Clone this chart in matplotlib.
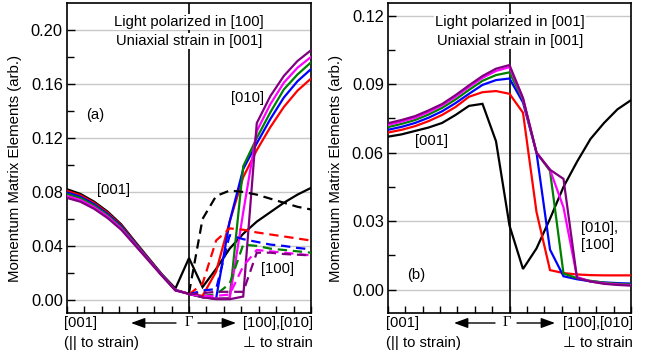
import numpy as np
import matplotlib
matplotlib.use("Agg")
import matplotlib.pyplot as plt
from matplotlib.patches import FancyArrowPatch

plt.rcParams['font.family'] = ['Liberation Sans', 'DejaVu Sans']

# k-path positions: [001] (-1) ... Gamma (0) ... [100],[010] (+1)
x = np.linspace(-1, 1, 19)
x_right = np.linspace(0, 1, 10)

colors = ['black', 'red', 'blue', 'green', 'magenta', 'purple']

# ---------------- Panel (a): light polarized in [100] ----------------
a_left = {
    'black':   [0.0820, 0.0785, 0.0728, 0.0654, 0.0560, 0.0435, 0.0312, 0.0190, 0.0085],
    'red':     [0.0808, 0.0775, 0.0719, 0.0645, 0.0552, 0.0429, 0.0308, 0.0187, 0.0075],
    'blue':    [0.0796, 0.0764, 0.0709, 0.0636, 0.0545, 0.0424, 0.0304, 0.0185, 0.0073],
    'green':   [0.0784, 0.0753, 0.0699, 0.0627, 0.0537, 0.0419, 0.0301, 0.0183, 0.0072],
    'magenta': [0.0770, 0.0740, 0.0687, 0.0617, 0.0529, 0.0413, 0.0297, 0.0181, 0.0071],
    'purple':  [0.0756, 0.0727, 0.0675, 0.0606, 0.0520, 0.0407, 0.0293, 0.0179, 0.0070],
}
a_right_solid = {
    'black':   [0.0310, 0.0095, 0.0230, 0.0380, 0.0490, 0.0580, 0.0650, 0.0720, 0.0780, 0.0830],
    'red':     [0.0045, 0.0030, 0.0210, 0.0580, 0.0910, 0.1110, 0.1280, 0.1430, 0.1550, 0.1640],
    'blue':    [0.0045, 0.0020, 0.0010, 0.0580, 0.0970, 0.1160, 0.1340, 0.1500, 0.1620, 0.1710],
    'green':   [0.0045, 0.0020, 0.0010, 0.0015, 0.0990, 0.1200, 0.1390, 0.1560, 0.1670, 0.1760],
    'magenta': [0.0045, 0.0020, 0.0010, 0.0010, 0.0650, 0.1250, 0.1450, 0.1610, 0.1720, 0.1800],
    'purple':  [0.0045, 0.0020, 0.0005, 0.0005, 0.0025, 0.1310, 0.1510, 0.1660, 0.1770, 0.1850],
}
a_right_dashed = {
    'black':   [0.0050, 0.0600, 0.0770, 0.0810, 0.0800, 0.0780, 0.0750, 0.0720, 0.0690, 0.0670],
    'red':     [0.0040, 0.0120, 0.0440, 0.0530, 0.0520, 0.0500, 0.0485, 0.0470, 0.0455, 0.0440],
    'blue':    [0.0040, 0.0070, 0.0080, 0.0480, 0.0450, 0.0430, 0.0410, 0.0400, 0.0385, 0.0375],
    'green':   [0.0040, 0.0030, 0.0040, 0.0120, 0.0410, 0.0400, 0.0380, 0.0370, 0.0360, 0.0350],
    'magenta': [0.0040, 0.0030, 0.0030, 0.0040, 0.0250, 0.0370, 0.0360, 0.0350, 0.0340, 0.0330],
    'purple':  [0.0040, 0.0050, 0.0060, 0.0060, 0.0060, 0.0350, 0.0350, 0.0340, 0.0335, 0.0330],
}

# ---------------- Panel (b): light polarized in [001] ----------------
b_values = {
    'black':   [0.0670, 0.0680, 0.0695, 0.0710, 0.0730, 0.0765, 0.0805, 0.0814, 0.0650, 0.0280,
                0.0090, 0.0180, 0.0310, 0.0450, 0.0560, 0.0660, 0.0730, 0.0790, 0.0830],
    'red':     [0.0688, 0.0700, 0.0716, 0.0738, 0.0765, 0.0800, 0.0845, 0.0865, 0.0870, 0.0858,
                0.0775, 0.0340, 0.0085, 0.0072, 0.0066, 0.0063, 0.0062, 0.0062, 0.0062],
    'blue':    [0.0700, 0.0713, 0.0730, 0.0753, 0.0781, 0.0817, 0.0858, 0.0897, 0.0918, 0.0925,
                0.0820, 0.0600, 0.0175, 0.0058, 0.0045, 0.0036, 0.0031, 0.0028, 0.0026],
    'green':   [0.0712, 0.0726, 0.0743, 0.0767, 0.0796, 0.0833, 0.0875, 0.0915, 0.0940, 0.0952,
                0.0830, 0.0600, 0.0520, 0.0070, 0.0050, 0.0038, 0.0030, 0.0025, 0.0022],
    'magenta': [0.0722, 0.0736, 0.0753, 0.0778, 0.0807, 0.0845, 0.0888, 0.0928, 0.0958, 0.0975,
                0.0835, 0.0600, 0.0525, 0.0360, 0.0055, 0.0035, 0.0027, 0.0022, 0.0019],
    'purple':  [0.0729, 0.0743, 0.0760, 0.0785, 0.0813, 0.0852, 0.0895, 0.0936, 0.0968, 0.0984,
                0.0840, 0.0600, 0.0525, 0.0485, 0.0050, 0.0035, 0.0025, 0.0020, 0.0017],
}

a_yticks = [0.00, 0.04, 0.08, 0.12, 0.16, 0.20]
a_yminor = [0.02, 0.06, 0.10, 0.14, 0.18]
b_yticks = [0.00, 0.03, 0.06, 0.09, 0.12]
b_yminor = [0.015, 0.045, 0.075, 0.105]

W, H = 657, 358
fig = plt.figure(figsize=(W / 100, H / 100), dpi=100)

def fx(px):
    return px / W

def fy(py):
    return 1 - py / H

axA = fig.add_axes([fx(67), fy(313), fx(311) - fx(67), fy(3) - fy(313)])
axB = fig.add_axes([fx(388), fy(313), fx(631) - fx(388), fy(3) - fy(313)])

LW = 1.6
DASH = (0, (4.2, 2.6))

# panel (a)
for c in colors:
    full = a_left[c] + a_right_solid[c]
    axA.plot(x, full, color=c, lw=LW, solid_joinstyle='miter', zorder=3)
for c in colors:
    axA.plot(x_right, a_right_dashed[c], color=c, lw=LW, linestyle=DASH, zorder=3)

# panel (b)
for c in colors:
    axB.plot(x, b_values[c], color=c, lw=LW, solid_joinstyle='miter', zorder=3)

def style(ax, ylim, major, minor):
    ax.set_xlim(-1, 1)
    ax.set_ylim(*ylim)
    ax.set_yticks(major)
    ax.set_yticklabels(['%.2f' % v for v in major])
    ax.set_yticks(minor, minor=True)
    ax.set_xticks(np.arange(-7, 8) / 7.0)
    ax.set_xticklabels([])
    ax.yaxis.grid(True, which='major', color='#c8c8c8', lw=1.0, zorder=0)
    ax.set_axisbelow(True)
    ax.tick_params(axis='y', which='major', direction='in', length=6, width=1.0,
                   labelsize=11.8, pad=3)
    ax.tick_params(axis='y', which='minor', direction='in', length=5, width=1.0)
    ax.tick_params(axis='x', which='major', direction='in', length=5, width=1.0)
    for s in ax.spines.values():
        s.set_linewidth(1.2)
    ax.axvline(0, color='black', lw=1.2, zorder=2)
    ax.set_ylabel('Momentum Matrix Elements (arb.)', fontsize=10.8)
    ax.yaxis.set_label_coords(-0.184, 0.466)

style(axA, (-0.0097, 0.22), a_yticks, a_yminor)
style(axB, (-0.0103, 0.1256), b_yticks, b_yminor)

box = dict(facecolor='white', edgecolor='none', pad=1.0)
FS = 10.6

# panel (a) texts
fig.text(fx(189), fy(22), 'Light polarized in [100]', ha='center', va='center',
         fontsize=FS, bbox=box, zorder=5)
fig.text(fx(189), fy(41), 'Uniaxial strain in [001]', ha='center', va='center',
         fontsize=FS, bbox=box, zorder=5)
fig.text(fx(95), fy(115), '(a)', ha='center', va='center', fontsize=FS)
fig.text(fx(113), fy(190), '[001]', ha='center', va='center', fontsize=FS)
fig.text(fx(247), fy(98), '[010]', ha='center', va='center', fontsize=FS)
fig.text(fx(278), fy(269), '[100]', ha='center', va='center', fontsize=FS)

# panel (b) texts
fig.text(fx(510), fy(22), 'Light polarized in [001]', ha='center', va='center',
         fontsize=FS, bbox=box, zorder=5)
fig.text(fx(510), fy(41), 'Uniaxial strain in [001]', ha='center', va='center',
         fontsize=FS, bbox=box, zorder=5)
fig.text(fx(416), fy(275), '(b)', ha='center', va='center', fontsize=FS)
fig.text(fx(432), fy(141), '[001]', ha='center', va='center', fontsize=FS)
fig.text(fx(581), fy(228), '[010],', ha='left', va='center', fontsize=FS)
fig.text(fx(581), fy(245), '[100]', ha='left', va='center', fontsize=FS)

# bottom labels
def bottom(left_px, right_px, gamma_px, la, ra):
    fig.text(fx(left_px), fy(323), '[001]', ha='left', va='center', fontsize=FS)
    fig.text(fx(left_px), fy(343), '(|| to strain)', ha='left', va='center', fontsize=FS)
    fig.text(fx(right_px), fy(323), '[100],[010]', ha='right', va='center', fontsize=FS)
    fig.text(fx(right_px), fy(343), '\u22a5 to strain', ha='right', va='center',
             fontsize=FS, family=['Liberation Sans', 'DejaVu Sans'])
    fig.text(fx(gamma_px), fy(323), '\u0393', ha='center', va='center', fontsize=FS,
             family=['Liberation Serif', 'DejaVu Serif'])
    for seg in (la, ra):
        fig.add_artist(FancyArrowPatch(
            (fx(seg[0]), fy(323)), (fx(seg[1]), fy(323)), transform=fig.transFigure,
            arrowstyle='-|>,head_length=0.6,head_width=0.22', color='black', lw=1.0,
            mutation_scale=14, shrinkA=0, shrinkB=0))

bottom(64, 313, 188.5, (176, 131), (198, 236))
bottom(386, 633, 507, (495, 454), (517, 555))

fig.savefig('out.png', dpi=100)
